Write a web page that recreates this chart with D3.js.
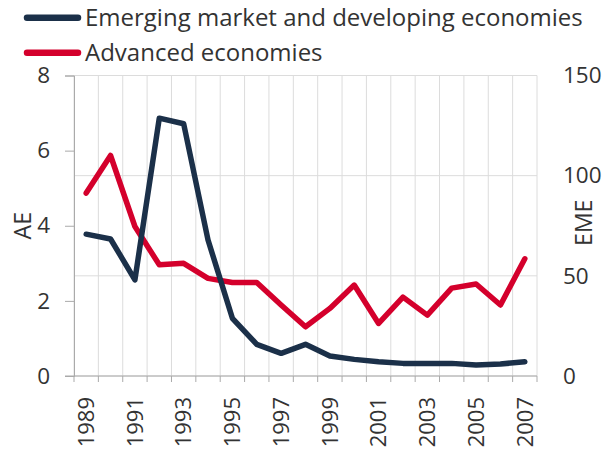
<!DOCTYPE html>
<html>
<head>
<meta charset="utf-8">
<script src="https://cdn.jsdelivr.net/npm/d3@7"></script>
<style>
  body { margin: 0; background: #fff; }
  svg text { font-family: "Open Sans", sans-serif; fill: #333; }
</style>
</head>
<body>
<script>
// data
var years = d3.range(1989, 2008);
var emeValues = [70.8, 68.4, 48.0, 128.7, 125.9, 67.9, 28.8, 15.8, 11.3, 15.8,
                 10.0, 8.3, 7.1, 6.3, 6.3, 6.3, 5.5, 6.0, 7.1];
var aeValues = [4.87, 5.87, 3.98, 2.96, 3.00, 2.60, 2.49, 2.49, 1.89, 1.31,
                1.80, 2.42, 1.40, 2.10, 1.62, 2.34, 2.45, 1.89, 3.12];
var leftTicks = [0, 2, 4, 6, 8];
var rightTicks = [0, 50, 100, 150];
var legendNames = ["Emerging market and developing economies", "Advanced economies"];
var colors = ["#1b3049", "#d4002c"];

var width = 613, height = 452;
var margin = { top: 75.5, right: 76, bottom: 76, left: 74 };
var fontSize = 22.5;

var svg = d3.select("body").append("svg")
    .attr("width", width)
    .attr("height", height);

var x = d3.scaleBand()
    .domain(years)
    .range([margin.left, width - margin.right]);
var yLeft = d3.scaleLinear().domain([0, 8]).range([height - margin.bottom, margin.top]);
var yRight = d3.scaleLinear().domain([0, 150]).range([height - margin.bottom, margin.top]);

var edges = years.map(function (d) { return x(d); }).concat([width - margin.right]);

// gridlines
var grid = svg.append("g");
grid.selectAll(".vgrid")
    .data(edges)
    .enter().append("line")
      .attr("x1", function (d) { return d; })
      .attr("x2", function (d) { return d; })
      .attr("y1", margin.top)
      .attr("y2", height - margin.bottom)
      .attr("stroke", "#dcdcdc")
      .attr("stroke-width", 1);
grid.selectAll(".hgrid")
    .data(rightTicks)
    .enter().append("line")
      .attr("x1", margin.left)
      .attr("x2", width - margin.right)
      .attr("y1", function (d) { return yRight(d); })
      .attr("y2", function (d) { return yRight(d); })
      .attr("stroke", "#dcdcdc")
      .attr("stroke-width", 1);

// left axis
var leftAxis = svg.append("g")
    .attr("transform", "translate(" + margin.left + ",0)")
    .call(d3.axisLeft(yLeft).tickValues(leftTicks).tickSize(9).tickPadding(15));
leftAxis.select(".domain").attr("stroke", "#aaa");
leftAxis.selectAll(".tick line").attr("stroke", "#aaa");
leftAxis.selectAll("text").style("font-size", fontSize + "px").attr("fill", "#333");

// right axis, labels only
var rightAxis = svg.append("g")
    .attr("transform", "translate(" + (width - margin.right) + ",0)")
    .call(d3.axisRight(yRight).tickValues(rightTicks).tickSize(0).tickPadding(26));
rightAxis.select(".domain").remove();
rightAxis.selectAll("text").style("font-size", fontSize + "px").attr("fill", "#333");

// x axis
var xAxis = svg.append("g")
    .attr("transform", "translate(0," + (height - margin.bottom) + ")")
    .call(d3.axisBottom(x).tickSize(0).tickFormat(function (d) { return d % 2 === 1 ? d : ""; }));
xAxis.select(".domain").remove();
xAxis.selectAll("text")
    .style("font-size", "22px")
    .attr("fill", "#333")
    .attr("transform", "rotate(-90)")
    .attr("text-anchor", "end")
    .attr("dy", "0.35em")
    .attr("x", -21)
    .attr("y", 0);
xAxis.append("line")
    .attr("x1", margin.left - 9)
    .attr("x2", width - margin.right)
    .attr("stroke", "#aaa");
xAxis.selectAll(".xtick")
    .data(edges)
    .enter().append("line")
      .attr("x1", function (d) { return d; })
      .attr("x2", function (d) { return d; })
      .attr("y1", 0)
      .attr("y2", 6)
      .attr("stroke", "#aaa");

// axis titles
svg.append("text")
    .attr("transform", "translate(31," + yLeft(4) + ") rotate(-90)")
    .attr("text-anchor", "middle")
    .style("font-size", "23px")
    .text("AE");
svg.append("text")
    .attr("transform", "translate(592," + (yLeft(4) - 3) + ") rotate(-90)")
    .attr("text-anchor", "middle")
    .style("font-size", "23px")
    .text("EME");

// lines
var cx = function (d, i) { return x(years[i]) + x.bandwidth() / 2; };
var emeLine = d3.line().x(cx).y(function (d) { return yRight(d); });
var aeLine = d3.line().x(cx).y(function (d) { return yLeft(d); });

svg.append("path")
    .datum(aeValues)
    .attr("d", aeLine)
    .attr("fill", "none")
    .attr("stroke", colors[1])
    .attr("stroke-width", 5.5)
    .attr("stroke-linejoin", "round")
    .attr("stroke-linecap", "round");
svg.append("path")
    .datum(emeValues)
    .attr("d", emeLine)
    .attr("fill", "none")
    .attr("stroke", colors[0])
    .attr("stroke-width", 5.5)
    .attr("stroke-linejoin", "round")
    .attr("stroke-linecap", "round");

// legend
var legend = svg.selectAll(".legend")
    .data(legendNames)
    .enter().append("g")
      .attr("transform", function (d, i) { return "translate(0," + (17.7 + i * 35) + ")"; });
legend.append("line")
    .attr("x1", 27).attr("x2", 78)
    .attr("stroke", function (d, i) { return colors[i]; })
    .attr("stroke-width", 6.5)
    .attr("stroke-linecap", "round");
legend.append("text")
    .attr("x", 85)
    .attr("dy", "0.35em")
    .style("font-size", "24px")
    .text(function (d) { return d; });
</script>
</body>
</html>
